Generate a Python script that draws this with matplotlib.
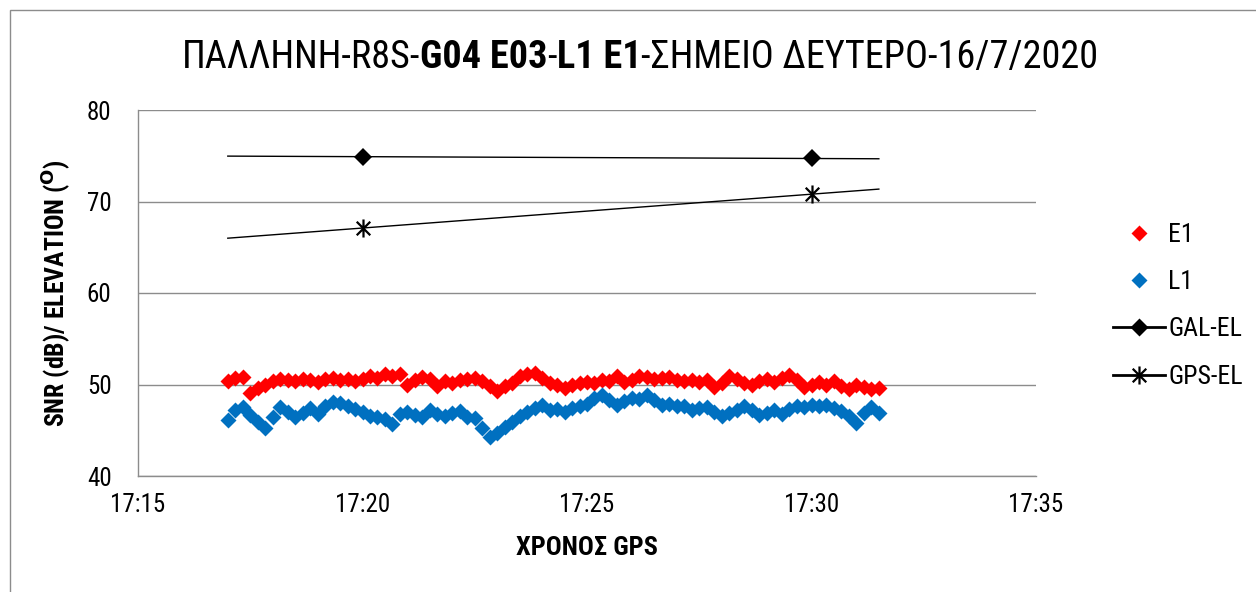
import numpy as np
import pandas as pd
import matplotlib
matplotlib.use("Agg")
import matplotlib.pyplot as plt
import matplotlib.dates as mdates
from matplotlib import font_manager
from matplotlib.path import Path
from matplotlib.lines import Line2D
from matplotlib.patches import Rectangle

# --- SNR samples (one every 10 s, starting 17:17:00) ---
SNR_START = "2020-07-16 17:17:00"
SNR_STEP_S = 10
E1_SNR = [50.4, 50.7, 50.8, 49.1, 49.6, 50.0, 50.4, 50.6, 50.5, 50.4, 50.6, 50.5,
          50.3, 50.6, 50.7, 50.5, 50.6, 50.4,
          50.6, 50.9, 50.7, 51.1, 50.9, 51.2, 50.0, 50.5, 50.8, 50.6, 49.8, 50.4,
          50.2, 50.5, 50.6, 50.7, 50.4, 49.8, 49.3, 49.8, 50.2, 50.9, 51.1, 51.3,
          50.7, 50.2,
          49.9, 49.6, 50.0, 50.2, 50.3, 50.2, 50.5, 50.4, 50.9, 50.3, 50.5, 50.9,
          50.8, 50.6, 50.7,
          50.8, 50.5, 50.4, 50.5, 50.3, 50.5, 49.7, 50.2, 50.9, 50.6, 50.2, 49.9,
          50.4, 50.6, 50.3,
          50.7, 51.0, 50.5, 49.7, 49.9, 50.3, 50.0, 50.4, 49.8, 49.5, 49.9, 49.7,
          49.5, 49.6]
L1_SNR = [46.1, 47.2, 47.5, 46.7, 45.9, 45.3, 46.5, 47.5, 47.0, 46.4, 46.9, 47.4,
          46.8, 47.7, 48.1,
          48.0, 47.6, 47.3, 47.0, 46.6, 46.4, 46.2, 45.7, 46.8, 47.0, 46.7, 46.5,
          47.2, 46.8,
          46.6, 46.9, 47.1, 46.5, 46.3, 45.2, 44.3, 44.7, 45.4, 45.9, 46.6, 47.0,
          47.4, 47.8, 47.2,
          47.3, 47.0, 47.4, 47.7, 47.9, 48.5, 48.8, 48.3, 47.8, 48.2, 48.5, 48.4,
          48.8, 48.3, 47.8,
          47.9, 47.7, 47.6, 47.2, 47.4, 47.5, 47.0, 46.6, 46.9, 47.2, 47.6, 47.2,
          46.7, 46.9, 47.2,
          46.8, 47.3, 47.7, 47.5, 47.8, 47.6, 47.8, 47.4, 47.1, 46.6, 45.8, 46.9,
          47.5, 46.9]

# --- satellite elevations ---
EL_TIMES = ["2020-07-16 17:20:00", "2020-07-16 17:30:00"]
GAL_EL = [74.9, 74.7]
GPS_EL = [67.1, 70.8]

X_START = "2020-07-16 17:15:00"
X_END = "2020-07-16 17:35:00"
Y_TICKS = [40, 50, 60, 70, 80]

RED = "#FF0000"
BLUE = "#0070C0"
GRID = "#8C8C8C"
SNR_MS = 8
GAL_MS = 9.5
GPS_MS = 13

# pick a narrow sans if there is one
installed = {f.name for f in font_manager.fontManager.ttflist}
FONT = next((n for n in ["Liberation Sans Narrow", "Roboto Condensed",
                         "Open Sans Condensed", "Liberation Sans"] if n in installed),
            "DejaVu Sans")
plt.rcParams["font.family"] = [FONT, "DejaVu Sans"]

snr_t = pd.date_range(SNR_START, periods=len(E1_SNR), freq=f"{SNR_STEP_S}s")
el_t = pd.to_datetime(EL_TIMES)

fig = plt.figure(figsize=(12.56, 5.92), dpi=100)
ax = fig.add_axes([138 / 1256, 1 - 476 / 592, (1036 - 138) / 1256, (476 - 110) / 592])

ax.plot(snr_t, E1_SNR, "D", color=RED, ms=SNR_MS, mec="none", zorder=3)
ax.plot(snr_t, L1_SNR, "D", color=BLUE, ms=SNR_MS, mec="none", zorder=3)

# elevation: straight line through the two fixes, over the logging span
xs = mdates.date2num(el_t)
span = mdates.date2num(snr_t[[0, -1]])
star = Path([(0, -1), (0, 1), (-0.75, -0.75), (0.75, 0.75), (-0.75, 0.75), (0.75, -0.75)],
            [Path.MOVETO, Path.LINETO] * 3)
for vals, mk, ms, mew in [(GAL_EL, "D", GAL_MS, 0), (GPS_EL, star, GPS_MS, 1.6)]:
    k = np.polyfit(xs, vals, 1)
    ax.plot(span, np.polyval(k, span), color="black", lw=1, zorder=4)
    ax.plot(el_t, vals, linestyle="none", marker=mk, ms=ms, color="black",
            mec="black", mew=mew, zorder=5)

ax.set_xlim(pd.Timestamp(X_START), pd.Timestamp(X_END))
ax.xaxis.set_major_locator(mdates.MinuteLocator(byminute=range(0, 60, 5)))
ax.xaxis.set_major_formatter(mdates.DateFormatter("%H:%M"))
ax.set_ylim(40, 80)
ax.set_yticks(Y_TICKS)
ax.grid(axis="y", color=GRID, lw=1)
ax.set_axisbelow(True)
for s in ["top", "right"]:
    ax.spines[s].set_visible(False)
for s in ["left", "bottom"]:
    ax.spines[s].set_color(GRID)
    ax.spines[s].set_linewidth(1)
ax.tick_params(axis="both", length=0, labelsize=18)
ax.tick_params(axis="y", pad=19)
ax.tick_params(axis="x", pad=12)

ax.set_ylabel(r"SNR (dB)/ ELEVATION ($^{\mathbf{O}}$)", fontsize=18.5, fontweight="bold",
              labelpad=10)
ax.set_xlabel("ΧΡΟΝΟΣ GPS", fontsize=19, fontweight="bold", labelpad=14)

handles = [
    Line2D([], [], ls="none", marker="D", color=RED, ms=SNR_MS, mec="none"),
    Line2D([], [], ls="none", marker="D", color=BLUE, ms=SNR_MS, mec="none"),
    Line2D([], [], color="black", lw=2, marker="D", ms=GAL_MS, mec="none"),
    Line2D([], [], color="black", lw=2, marker=star, ms=GPS_MS, mec="black", mew=1.6),
]
fig.legend(handles, ["E1", "L1", "GAL-EL", "GPS-EL"], loc="upper left",
           bbox_to_anchor=(1090 / 1256, 1 - 200 / 592), frameon=False,
           fontsize=18.5, handlelength=2.0, handletextpad=0.15, labelspacing=0.9)

# title with bold satellite/signal ids
parts = [("ΠΑΛΛΗΝΗ-R8S-", "normal"), ("G04 E03", "bold"), ("-", "normal"),
         ("L1 E1", "bold"), ("-ΣΗΜΕΙΟ ΔΕΥΤΕΡΟ-16/7/2020", "normal")]
renderer = fig.canvas.get_renderer()
texts = [fig.text(0, 1 - 57 / 592, s, fontsize=27.5, fontweight=w, va="center")
         for s, w in parts]
widths = [t.get_window_extent(renderer).width for t in texts]
x = 640 - sum(widths) / 2
for t, w in zip(texts, widths):
    t.set_x(x / 1256)
    x += w

# chart area border
fig.add_artist(Rectangle((10 / 1256, -0.1), 1.2, 1 - 10 / 592 + 0.1,
                         transform=fig.transFigure, fill=False, ec="#8C8C8C", lw=1))

fig.savefig("out.png", dpi=100)
